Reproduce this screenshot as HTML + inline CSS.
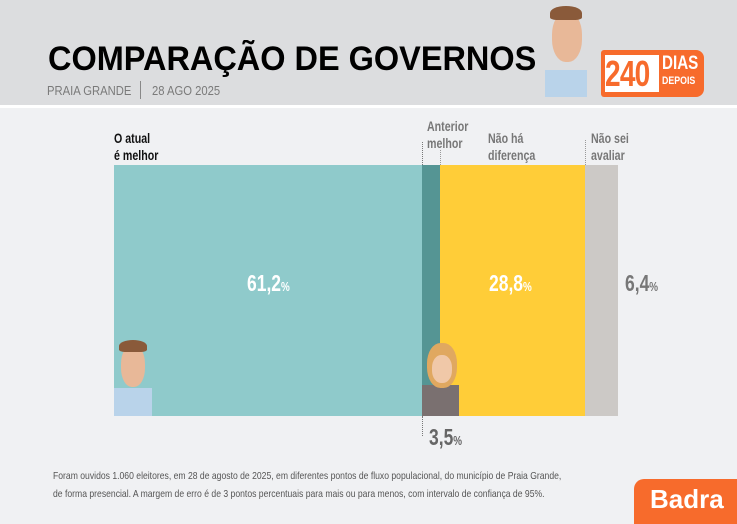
<!DOCTYPE html>
<html><head><meta charset="utf-8"><style>
*{margin:0;padding:0}
body{width:737px;height:521px;background:#f0f1f3;position:relative;overflow:hidden;font-family:"Liberation Sans",sans-serif}
.a{position:absolute;white-space:nowrap}
.n{font-weight:bold;transform:scaleX(0.76);transform-origin:0 0}
</style></head><body>
<div class="a" style="left:0;top:0;width:737px;height:105px;background:#dcdddf"></div>
<div class="a" style="left:0;top:105px;width:737px;height:3px;background:#fff"></div>
<div class="a" style="left:48px;top:40px;font-size:34px;font-weight:900;color:#000;transform:scaleX(0.955);transform-origin:0 0">COMPARAÇÃO DE GOVERNOS</div>
<div class="a" style="left:47px;top:84px;font-size:12.5px;color:#7a7a7a;transform:scaleX(0.9);transform-origin:0 0">PRAIA GRANDE</div>
<div class="a" style="left:140px;top:81px;width:1px;height:18px;background:#888"></div>
<div class="a" style="left:152px;top:84px;font-size:12.5px;color:#7a7a7a;transform:scaleX(0.9);transform-origin:0 0">28 AGO 2025</div>
<!-- caricature top -->
<div class="a" style="left:545px;top:70px;width:42px;height:27px;background:#b9d3ea"></div>
<div class="a" style="left:552px;top:12px;width:30px;height:50px;border-radius:45%;background:#e8b898"></div>
<div class="a" style="left:550px;top:6px;width:32px;height:14px;border-radius:50% 50% 20% 20%;background:#8a5a3a"></div>
<!-- badge -->
<div class="a" style="left:601px;top:50px;width:103px;height:47px;background:#f76b2c;border-radius:3px 8px 8px 3px"></div>
<div class="a" style="left:605px;top:55px;width:54px;height:37px;background:#fff"></div>
<div class="a n" style="left:605px;top:53px;font-size:36px;color:#f76b2c;letter-spacing:-1px;transform:scaleX(0.78)">240</div>
<div class="a n" style="left:662px;top:55px;font-size:19px;color:#fff;line-height:18px;transform:scaleX(0.8)">DIAS</div>
<div class="a n" style="left:662px;top:75px;font-size:11px;color:#fff;transform:scaleX(0.8)">DEPOIS</div>
<!-- labels -->
<div class="a n" style="left:114px;top:130px;font-size:14px;line-height:17px;color:#111">O atual<br>é melhor</div>
<div class="a n" style="left:427px;top:118px;font-size:14px;line-height:17px;color:#777">Anterior<br>melhor</div>
<div class="a n" style="left:488px;top:130px;font-size:14px;line-height:17px;color:#777">Não há<br>diferença</div>
<div class="a n" style="left:591px;top:130px;font-size:14px;line-height:17px;color:#777">Não sei<br>avaliar</div>
<div class="a" style="left:422px;top:142px;height:23px;border-left:1px dotted #777"></div>
<div class="a" style="left:440px;top:150px;height:15px;border-left:1px dotted #999"></div>
<div class="a" style="left:585px;top:140px;height:25px;border-left:1px dotted #999"></div>
<!-- bars -->
<div class="a" style="left:114px;top:165px;width:308px;height:251px;background:#8fcacb"></div>
<div class="a" style="left:422px;top:165px;width:18px;height:251px;background:#559594"></div>
<div class="a" style="left:440px;top:165px;width:145px;height:251px;background:#ffcd38"></div>
<div class="a" style="left:585px;top:165px;width:33px;height:251px;background:#ccc9c6"></div>
<div class="a n" style="left:247px;top:270px;font-size:23px;color:#fff">61,2<span style="font-size:13px">%</span></div>
<div class="a n" style="left:489px;top:270px;font-size:23px;color:#fff">28,8<span style="font-size:13px">%</span></div>
<div class="a n" style="left:625px;top:270px;font-size:23px;color:#777">6,4<span style="font-size:13px">%</span></div>
<div class="a n" style="left:429px;top:424px;font-size:23px;color:#666">3,5<span style="font-size:13px">%</span></div>
<div class="a" style="left:422px;top:416px;height:20px;border-left:1px dotted #777"></div>
<!-- caricatures -->
<div class="a" style="left:114px;top:388px;width:38px;height:28px;background:#b9d3ea"></div>
<div class="a" style="left:121px;top:345px;width:24px;height:42px;border-radius:45%;background:#e8b898"></div>
<div class="a" style="left:119px;top:340px;width:28px;height:12px;border-radius:50% 50% 20% 20%;background:#8a5a3a"></div>
<div class="a" style="left:422px;top:385px;width:37px;height:31px;background:#7a7070"></div>
<div class="a" style="left:427px;top:343px;width:30px;height:45px;border-radius:45%;background:#e0a860"></div>
<div class="a" style="left:432px;top:355px;width:20px;height:28px;border-radius:45%;background:#f0c8a8"></div>
<!-- footnote -->
<div class="a" style="left:53px;top:467px;font-size:10.5px;line-height:18px;color:#555;transform:scaleX(0.82);transform-origin:0 0">Foram ouvidos 1.060 eleitores, em 28 de agosto de 2025, em diferentes pontos de fluxo populacional, do município de Praia Grande,<br>de forma presencial. A margem de erro é de 3 pontos percentuais para mais ou para menos, com intervalo de confiança de 95%.</div>
<div class="a" style="left:634px;top:479px;width:110px;height:45px;background:#f76b2c;border-radius:10px 0 0 0"></div>
<div class="a" style="left:650px;top:484px;font-size:26px;font-weight:bold;color:#fff">Badra</div>
</body></html>
